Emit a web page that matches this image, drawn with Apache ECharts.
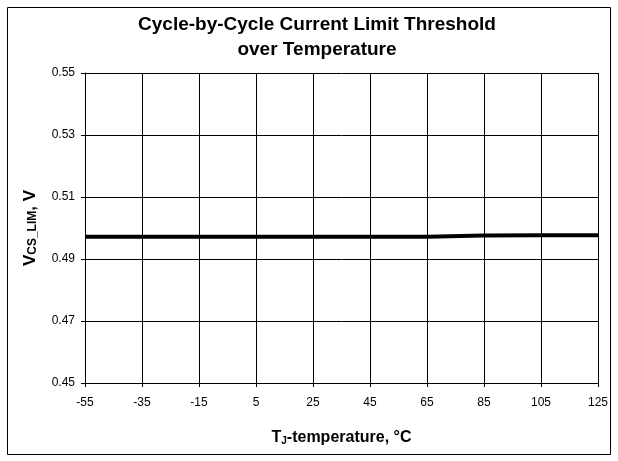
<!DOCTYPE html>
<html><head><meta charset="utf-8">
<script src="https://cdn.jsdelivr.net/npm/echarts@6/dist/echarts.min.js"></script>
<style>html,body{margin:0;padding:0;background:#fff}#c{width:618px;height:461px}</style>
</head><body><div id="c"></div>
<script>
var temperatures = [-55, -35, -15, 5, 25, 45, 65, 85, 105, 125];
var vcsLim = [0.4972, 0.4972, 0.4972, 0.4972, 0.4972, 0.4972, 0.4972, 0.4976, 0.4977, 0.4977];
var yTicks = [0.45, 0.47, 0.49, 0.51, 0.53, 0.55];

var chart = echarts.init(document.getElementById('c'));
var F = 'Liberation Sans, Arial, sans-serif';
chart.setOption({
  animation: false,
  backgroundColor: '#fff',
  title: {
    text: 'Cycle-by-Cycle Current Limit Threshold\nover Temperature',
    left: 317, top: 12, padding: 0, textAlign: 'center',
    textStyle: {fontFamily: F, fontWeight: 'bold', fontSize: 19, color: '#000', lineHeight: 25}
  },
  graphic: [{type: 'rect', shape: {x: 7.5, y: 7.5, width: 603, height: 447}, style: {fill: 'none', stroke: '#000', lineWidth: 1}}],
  grid: {left: 85, right: 20, top: 73, bottom: 78},
  xAxis: {
    type: 'value', min: -55, max: 125, interval: 20,
    axisLine: {onZero: false, lineStyle: {color: '#000', width: 1}},
    axisTick: {show: true, length: 4, lineStyle: {color: '#000'}},
    axisLabel: {fontFamily: F, fontSize: 12, color: '#000', margin: 14},
    splitLine: {show: true, lineStyle: {color: '#000', width: 1}},
    name: '{b|T}{s|J}{b|-temperature, °C}',
    nameLocation: 'middle', nameGap: 47,
    nameTextStyle: {rich: {b: {fontFamily: F, fontWeight: 'bold', fontSize: 16, color: '#000'}, s: {fontFamily: F, fontWeight: 'bold', fontSize: 10, color: '#000', padding: [6, 0, 0, 0]}}}
  },
  yAxis: {
    type: 'value', min: 0.45, max: 0.55, interval: 0.02,
    axisLine: {show: true, onZero: false, lineStyle: {color: '#000', width: 1}},
    axisTick: {show: true, length: 4, lineStyle: {color: '#000'}},
    axisLabel: {fontFamily: F, fontSize: 12, color: '#000', margin: 10, formatter: function (v) { return v.toFixed(2); }},
    splitLine: {show: true, lineStyle: {color: '#000', width: 1}},
    name: '{b|V}{s|CS_LIM}{b|, V}',
    nameLocation: 'middle', nameGap: 46, nameRotate: 90,
    nameTextStyle: {rich: {b: {fontFamily: F, fontWeight: 'bold', fontSize: 17, color: '#000'}, s: {fontFamily: F, fontWeight: 'bold', fontSize: 12, color: '#000', padding: [6, 0, 0, 0]}}}
  },
  series: [{
    type: 'line', data: temperatures.map(function (t, i) { return [t, vcsLim[i]]; }),
    showSymbol: false, lineStyle: {color: '#000', width: 4}, z: 5
  }]
});
</script></body></html>
